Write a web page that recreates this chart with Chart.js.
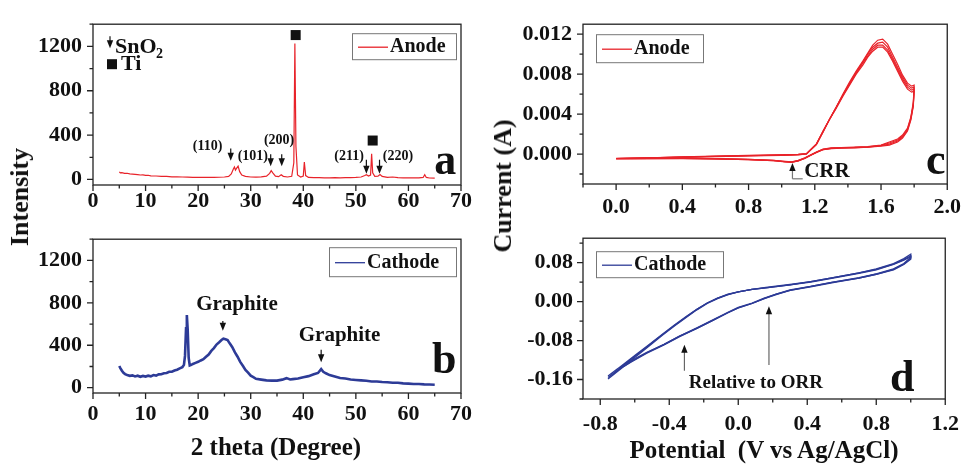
<!DOCTYPE html>
<html>
<head>
<meta charset="utf-8">
<script src="https://cdn.jsdelivr.net/npm/chart.js@4.4.0/dist/chart.umd.min.js"></script>
<style>
  body { margin: 0; background: #fff; width: 971px; height: 466px; overflow: hidden; position: relative;
         font-family: "Liberation Serif", "Times New Roman", serif; }
  canvas { position: absolute; }
  .t { position: absolute; font-weight: bold; white-space: pre; color: #111; transform: translate(-50%, -50%); }
  .rot { transform: translate(-50%, -50%) rotate(-90deg); }
</style>
</head>
<body>
<canvas id="ca" width="480" height="222" style="left:0;top:0;width:480px;height:222px"></canvas>
<canvas id="cb" width="480" height="235" style="left:0;top:215px;width:480px;height:235px"></canvas>
<canvas id="cc" width="491" height="222" style="left:480px;top:0;width:491px;height:222px"></canvas>
<canvas id="cd" width="491" height="240" style="left:480px;top:215px;width:491px;height:240px"></canvas>

<div class="t rot" style="left:20px;top:197px;font-size:26px">Intensity</div>
<div class="t" style="left:276px;top:447px;font-size:25px">2 theta (Degree)</div>
<div class="t rot" style="left:503px;top:186px;font-size:26px">Current (A)</div>
<div class="t" style="left:764px;top:450px;font-size:25px">Potential  (V vs Ag/AgCl)</div>

<script>
// ---- XRD data (2 theta, intensity) ----
const anodeTheta = [5.0, 5.2, 5.5, 6.0, 6.5, 7.0, 7.5, 8.0, 8.5, 9.0, 9.5, 10.0, 10.5, 11, 12, 13, 14, 15, 16, 17, 18, 19, 20, 21, 22, 23, 24, 25,
  25.8, 26.3, 26.7, 26.9, 27.1, 27.3, 27.6, 27.9, 28.3, 29, 30, 31, 32, 33, 33.6, 33.9, 34.2, 34.7, 35.3, 35.8, 36.2, 37, 37.8,
  38.2, 38.4, 38.6, 38.9, 39.5, 40.0, 40.2, 40.45, 41, 42, 43, 44, 45, 46, 47, 48, 49, 50, 51, 51.7, 52.0, 52.4, 52.8, 53.0, 53.2,
  53.6, 54.2, 54.6, 55.0, 56, 57, 58, 59, 60, 61, 62, 62.8, 63.1, 63.4, 64, 65];
const anodeIntensity = [68, 60, 62, 55, 56, 50, 48, 46, 44, 40, 41, 37, 38, 33, 31, 28, 27, 24, 23, 22, 21, 19, 19, 18, 19, 18, 20, 22,
  28, 50, 95, 112, 85, 100, 120, 70, 40, 28, 22, 21, 23, 30, 55, 80, 60, 30, 25, 42, 28, 22, 28,
  150, 1225, 300, 40, 22, 30, 158, 35, 18, 16, 16, 15, 15, 16, 15, 16, 17, 18, 22, 35, 42, 30, 40, 232, 60,
  28, 30, 45, 28, 18, 22, 16, 15, 15, 14, 14, 18, 42, 18, 13, 12];

const cathodeTheta = [5.0, 5.2, 5.5, 5.8, 6.1, 6.5, 7, 7.5, 8, 8.5, 9, 9.5, 10, 10.5, 11, 11.5, 12, 12.5, 13, 13.5, 14, 14.5, 15, 15.5,
  16, 16.5, 17, 17.3, 17.5, 17.7, 17.85, 18.0, 18.2, 18.4, 18.7, 19, 19.5, 20, 20.5, 21, 21.5, 22, 22.5, 23, 23.5, 24, 24.5, 24.8,
  25.2, 25.6, 26, 26.5, 27, 27.5, 28, 28.5, 29, 29.5, 30, 30.5, 31, 32, 33, 34, 35, 36, 36.8, 37.5, 38, 39, 40, 41, 42, 42.8, 43.4,
  43.8, 44.3, 45, 46, 47, 48, 49, 50, 51, 52, 53, 54, 55, 56, 57, 58, 59, 60, 61, 62, 63, 64, 65];
const cathodeIntensity = [205, 185, 160, 140, 128, 120, 112, 116, 106, 113, 103, 111, 105, 113, 107, 119, 114, 126, 127, 136, 139, 150, 151, 162,
  169, 182, 194, 215, 300, 560, 685, 560, 280, 210, 216, 224, 234, 244, 257, 268, 292, 313, 347, 373, 407, 428, 452, 462,
  457, 449, 418, 382, 333, 292, 243, 207, 168, 142, 113, 99, 84, 76, 69, 67, 67, 76, 90, 77, 81, 87, 99, 109, 126, 139, 175,
  150, 136, 119, 106, 91, 86, 77, 73, 69, 66, 59, 59, 53, 51, 47, 46, 41, 38, 35, 35, 31, 30, 28];

const thetaTicks = [0, 10, 20, 30, 40, 50, 60, 70];
const intensityTicks = [0, 400, 800, 1200];

// ---- CV data, anode (4 cycles on one potential path) ----
const anodePotential = [0.00, 0.20, 0.40, 0.60, 0.80, 1.00, 1.10, 1.15, 1.21, 1.25, 1.29, 1.33, 1.37, 1.41, 1.45, 1.49, 1.52, 1.55,
  1.58, 1.61, 1.64, 1.67, 1.70, 1.73, 1.76, 1.785, 1.80, 1.795, 1.78, 1.76, 1.73, 1.70, 1.65, 1.60, 1.52, 1.44, 1.36, 1.30, 1.25,
  1.21, 1.18, 1.14, 1.10, 1.06, 1.02, 0.95, 0.80, 0.60, 0.40, 0.20, 0.00];
const anodeCycle1 = [-0.00045, -0.00040, -0.00034, -0.00026, -0.00019, -0.00013, -0.00008, 0.00000, 0.00095, 0.0022, 0.0035, 0.0047,
  0.0060, 0.0072, 0.0083, 0.0093, 0.0101, 0.0109, 0.0114, 0.0115, 0.0110, 0.0100, 0.0090, 0.0079, 0.0071, 0.0068, 0.0069, 0.0052,
  0.0037, 0.0026, 0.0019, 0.0015, 0.0012, 0.00090, 0.00075, 0.00069, 0.00065, 0.00061, 0.00049, 0.00021, -0.00004, -0.00038,
  -0.00063, -0.00077, -0.00072, -0.00062, -0.00053, -0.00046, -0.00042, -0.00043, -0.00047];
const anodeCycle2 = [-0.00044, -0.00038, -0.00031, -0.00024, -0.00017, -0.00011, -0.00006, 0.00002, 0.00098, 0.0022, 0.0035, 0.0047,
  0.0059, 0.0071, 0.0082, 0.0092, 0.0100, 0.0107, 0.0111, 0.0112, 0.0107, 0.0097, 0.0087, 0.0077, 0.0069, 0.0066, 0.0067, 0.0050,
  0.0036, 0.0025, 0.0018, 0.0014, 0.0011, 0.00086, 0.00072, 0.00066, 0.00063, 0.00059, 0.00047, 0.00019, -0.00006, -0.00040,
  -0.00066, -0.00080, -0.00075, -0.00064, -0.00054, -0.00047, -0.00043, -0.00044, -0.00046];
const anodeCycle3 = [-0.00046, -0.00039, -0.00030, -0.00022, -0.00015, -0.00009, -0.00004, 0.00003, 0.00100, 0.0023, 0.0035, 0.0047,
  0.0059, 0.0070, 0.0081, 0.0091, 0.0098, 0.0105, 0.0109, 0.0109, 0.0104, 0.0095, 0.0085, 0.0075, 0.0067, 0.0064, 0.0065, 0.0049,
  0.0035, 0.0024, 0.0017, 0.0013, 0.0010, 0.00083, 0.00070, 0.00064, 0.00061, 0.00057, 0.00045, 0.00017, -0.00008, -0.00042,
  -0.00068, -0.00082, -0.00077, -0.00066, -0.00055, -0.00048, -0.00044, -0.00045, -0.00047];
const anodeCycle4 = [-0.00045, -0.00037, -0.00029, -0.00021, -0.00014, -0.00008, -0.00003, 0.00004, 0.00102, 0.0023, 0.0035, 0.0046,
  0.0058, 0.0069, 0.0080, 0.0089, 0.0097, 0.0103, 0.0107, 0.0107, 0.0102, 0.0093, 0.0083, 0.0073, 0.0065, 0.0062, 0.0063, 0.0048,
  0.0034, 0.0023, 0.0016, 0.0012, 0.0009, 0.00080, 0.00068, 0.00062, 0.00059, 0.00055, 0.00043, 0.00015, -0.00010, -0.00044,
  -0.00070, -0.00084, -0.00079, -0.00067, -0.00056, -0.00049, -0.00045, -0.00046, -0.00046];

// ---- CV data, cathode (3 cycles) ----
const cathodePotential = [-0.755, -0.68, -0.60, -0.52, -0.44, -0.37, -0.30, -0.24, -0.18, -0.12, -0.06, 0.00, 0.08, 0.16, 0.30, 0.42,
  0.55, 0.70, 0.80, 0.90, 0.96, 1.00,
  1.00, 0.96, 0.90, 0.80, 0.70, 0.55, 0.42, 0.30, 0.22, 0.15, 0.08, 0.00, -0.06, -0.15, -0.24, -0.34, -0.43, -0.53, -0.62, -0.70, -0.755];
const cathodeCycle1 = [-0.159, -0.138, -0.115, -0.092, -0.069, -0.050, -0.032, -0.017, -0.004, 0.006, 0.014, 0.020, 0.025, 0.028, 0.034,
  0.041, 0.049, 0.059, 0.067, 0.078, 0.088, 0.097,
  0.091, 0.078, 0.067, 0.057, 0.049, 0.040, 0.031, 0.024, 0.015, 0.007, -0.003, -0.012, -0.022, -0.038, -0.054, -0.071, -0.088,
  -0.105, -0.123, -0.142, -0.159];
const cathodeCycle2 = [-0.156, -0.135, -0.113, -0.090, -0.068, -0.049, -0.031, -0.016, -0.003, 0.007, 0.015, 0.020, 0.025, 0.029, 0.035,
  0.041, 0.049, 0.059, 0.066, 0.077, 0.086, 0.094,
  0.089, 0.077, 0.066, 0.056, 0.048, 0.040, 0.031, 0.023, 0.015, 0.006, -0.004, -0.013, -0.023, -0.039, -0.055, -0.072, -0.089,
  -0.106, -0.124, -0.141, -0.156];
const cathodeCycle3 = [-0.153, -0.133, -0.111, -0.089, -0.067, -0.048, -0.030, -0.016, -0.003, 0.007, 0.014, 0.020, 0.025, 0.028, 0.034,
  0.040, 0.048, 0.058, 0.065, 0.076, 0.085, 0.092,
  0.087, 0.076, 0.065, 0.056, 0.048, 0.039, 0.030, 0.023, 0.014, 0.006, -0.004, -0.013, -0.023, -0.039, -0.055, -0.071, -0.088,
  -0.104, -0.121, -0.138, -0.153];

const anodePotTicks = [0.0, 0.4, 0.8, 1.2, 1.6, 2.0];
const anodeCurTicks = [0.000, 0.004, 0.008, 0.012];
const cathodePotTicks = [-0.8, -0.4, 0.0, 0.4, 0.8, 1.2];
const cathodeCurTicks = [-0.16, -0.08, 0.00, 0.08];

const RED = '#E8232A';
const BLUE = '#2D3B97';
const SERIF = '"Liberation Serif", "Times New Roman", serif';

Chart.defaults.font.family = SERIF;
Chart.defaults.font.weight = 'bold';
Chart.defaults.color = '#111';

function xy(xs, ys) {
  return xs.map((v, i) => ({ x: v, y: ys[i] }));
}

function series(xs, ys, color, width) {
  return { data: xy(xs, ys), borderColor: color, borderWidth: width, showLine: true,
           pointRadius: 0, pointHoverRadius: 0, fill: false, tension: 0 };
}

function axis(min, max, tickVals, digits, pad, fit, isY) {
  return {
    type: 'linear', min: min, max: max,
    grid: { display: false, drawTicks: false },
    border: { display: false },
    afterBuildTicks: s => { s.ticks = tickVals.map(v => ({ value: v })); },
    afterFit: s => { if (isY) s.width = fit; else s.height = fit; },
    ticks: { padding: pad, autoSkip: false, maxRotation: 0, font: { size: 22, weight: 'bold' }, color: '#111',
             callback: v => Number(v).toFixed(digits) }
  };
}

function eachTick(sc, step, major, fn) {
  const i0 = Math.ceil(sc.min / step - 1e-6), i1 = Math.floor(sc.max / step + 1e-6);
  for (let i = i0; i <= i1; i++) {
    const v = i * step;
    fn(v, Math.abs(v / major - Math.round(v / major)) < 1e-6);
  }
}

function drawArrow(ctx, x, yTail, yTip, lineColor) {
  const dir = yTip > yTail ? 1 : -1;
  ctx.strokeStyle = lineColor; ctx.lineWidth = 1.2;
  ctx.beginPath(); ctx.moveTo(x, yTail); ctx.lineTo(x, yTip - dir * 5); ctx.stroke();
  ctx.fillStyle = '#111';
  ctx.beginPath();
  ctx.moveTo(x, yTip);
  ctx.lineTo(x - 3.2, yTip - dir * 8);
  ctx.lineTo(x + 3.2, yTip - dir * 8);
  ctx.closePath(); ctx.fill();
}

function makeFrame(cfg) {
  return {
    id: 'frame',
    afterDraw(chart) {
      const ctx = chart.ctx, a = chart.chartArea, sx = chart.scales.x, sy = chart.scales.y;
      const px = n => n.dx !== undefined ? a.left + n.dx : sx.getPixelForValue(n.x);
      const py = (n, k) => n.dx !== undefined ? a.top + n['d' + k] : sy.getPixelForValue(n[k]);
      ctx.save();
      // frame box
      ctx.strokeStyle = '#222'; ctx.lineWidth = 1.3;
      ctx.strokeRect(a.left, a.top, a.right - a.left, a.bottom - a.top);
      // outward ticks, major + minor
      ctx.beginPath();
      eachTick(sx, cfg.xMinor, cfg.xMajor, (v, big) => {
        const p = sx.getPixelForValue(v);
        ctx.moveTo(p, a.bottom); ctx.lineTo(p, a.bottom + (big ? 6 : 3.5));
      });
      eachTick(sy, cfg.yMinor, cfg.yMajor, (v, big) => {
        const p = sy.getPixelForValue(v);
        ctx.moveTo(a.left, p); ctx.lineTo(a.left - (big ? 6 : 3.5), p);
      });
      ctx.stroke();
      // legend box
      const L = cfg.legend;
      ctx.strokeStyle = '#777'; ctx.lineWidth = 1;
      ctx.strokeRect(a.left + L.dx + 0.5, a.top + L.dy + 0.5, L.w, L.h);
      const ly = a.top + L.dy + L.h / 2 + 1;
      ctx.strokeStyle = L.color; ctx.lineWidth = 1.3;
      ctx.beginPath(); ctx.moveTo(a.left + L.dx + 6, ly); ctx.lineTo(a.left + L.dx + 36, ly); ctx.stroke();
      ctx.fillStyle = '#111'; ctx.font = 'bold 20px ' + SERIF;
      ctx.textAlign = 'left'; ctx.textBaseline = 'middle';
      ctx.fillText(L.text, a.left + L.dx + 38, ly);
      // annotations
      cfg.notes.forEach(n => {
        if (n.t === 'text') {
          ctx.fillStyle = '#111';
          ctx.font = 'bold ' + n.size + 'px ' + SERIF;
          ctx.textAlign = n.align || 'center';
          ctx.textBaseline = n.base || 'middle';
          ctx.fillText(n.s, px(n), py(n, 'y'));
        } else if (n.t === 'arrow') {
          drawArrow(ctx, px(n), py(n, 'y1'), py(n, 'y2'), n.color || '#111');
        } else if (n.t === 'square') {
          ctx.fillStyle = '#111';
          ctx.fillRect(px(n) - n.size / 2, py(n, 'y') - n.size / 2, n.size, n.size);
        } else if (n.t === 'poly') {
          ctx.strokeStyle = n.color; ctx.lineWidth = 1.2;
          ctx.beginPath();
          n.pts.forEach((p, i) => {
            const X = sx.getPixelForValue(p[0]), Y = sy.getPixelForValue(p[1]);
            if (i === 0) ctx.moveTo(X, Y); else ctx.lineTo(X, Y);
          });
          ctx.stroke();
        }
      });
      ctx.restore();
    }
  };
}

function panel(id, g, datasets, xAxis, yAxis, frame) {
  new Chart(document.getElementById(id), {
    type: 'scatter',
    data: { datasets: datasets },
    options: {
      animation: false, responsive: false, devicePixelRatio: 1,
      layout: { padding: { top: g.top, right: g.right, left: 0, bottom: 0 } },
      scales: { x: xAxis, y: yAxis },
      plugins: { legend: { display: false }, tooltip: { enabled: false } }
    },
    plugins: [makeFrame(frame)]
  });
}

// a: anode XRD
panel('ca', { top: 13, right: 19 },
  [series(anodeTheta, anodeIntensity, RED, 1.2)],
  axis(0, 70, thetaTicks, 0, 3, 37, false),
  axis(-50, 1400, intensityTicks, 0, 11, 93, true),
  {
    xMinor: 5, xMajor: 10, yMinor: 200, yMajor: 400,
    legend: { dx: 259, dy: 9, w: 104, h: 26, text: 'Anode', color: RED },
    notes: [
      { t: 'arrow', dx: 17, dy1: 12, dy2: 24 },
      { t: 'text', dx: 22, dy: 29, s: 'SnO', size: 22, align: 'left', base: 'alphabetic' },
      { t: 'text', dx: 63, dy: 34, s: '2', size: 14, align: 'left', base: 'alphabetic' },
      { t: 'square', dx: 19, dy: 40, size: 10 },
      { t: 'text', dx: 28, dy: 46, s: 'Ti', size: 22, align: 'left', base: 'alphabetic' },
      { t: 'square', x: 38.55, y: 1302, size: 10 },
      { t: 'square', x: 53.2, y: 351, size: 10 },
      { t: 'text', x: 21.8, y: 296, s: '(110)', size: 14 },
      { t: 'text', x: 30.4, y: 211, s: '(101)', size: 14 },
      { t: 'text', x: 35.4, y: 355, s: '(200)', size: 14 },
      { t: 'text', x: 48.7, y: 211, s: '(211)', size: 14 },
      { t: 'text', x: 58.0, y: 211, s: '(220)', size: 14 },
      { t: 'arrow', x: 26.2, y1: 279, y2: 169 },
      { t: 'arrow', x: 33.8, y1: 228, y2: 118 },
      { t: 'arrow', x: 35.9, y1: 228, y2: 118 },
      { t: 'arrow', x: 52.0, y1: 178, y2: 51 },
      { t: 'arrow', x: 54.5, y1: 178, y2: 51 },
      { t: 'text', x: 67.0, y: 51, s: 'a', size: 44, base: 'alphabetic' }
    ]
  });

// b: cathode XRD
panel('cb', { top: 6, right: 19 },
  [series(cathodeTheta, cathodeIntensity, BLUE, 2.6)],
  axis(0, 70, thetaTicks, 0, 8, 57, false),
  axis(-50, 1400, intensityTicks, 0, 11, 93, true),
  {
    xMinor: 5, xMajor: 10, yMinor: 200, yMajor: 400,
    legend: { dx: 236, dy: 8, w: 127, h: 29, text: 'Cathode', color: BLUE },
    notes: [
      { t: 'text', x: 27.4, y: 780, s: 'Graphite', size: 21 },
      { t: 'arrow', x: 24.7, y1: 628, y2: 536 },
      { t: 'text', x: 46.9, y: 495, s: 'Graphite', size: 21 },
      { t: 'arrow', x: 43.4, y1: 357, y2: 240 },
      { t: 'text', x: 66.8, y: 140, s: 'b', size: 44, base: 'alphabetic' }
    ]
  });

// c: anode CV
panel('cc', { top: 13, right: 18 },
  [series(anodePotential, anodeCycle1, RED, 1.2),
   series(anodePotential, anodeCycle2, RED, 1.2),
   series(anodePotential, anodeCycle3, RED, 1.2),
   series(anodePotential, anodeCycle4, RED, 1.2)],
  axis(-0.2, 2.0, anodePotTicks, 1, 10, 38, false),
  axis(-0.003, 0.013, anodeCurTicks, 3, 11, 103, true),
  {
    xMinor: 0.2, xMajor: 0.4, yMinor: 0.002, yMajor: 0.004,
    legend: { dx: 13, dy: 10, w: 107, h: 28, text: 'Anode', color: RED },
    notes: [
      { t: 'arrow', x: 1.065, y1: -0.00248, y2: -0.0009, color: '#777' },
      { t: 'poly', pts: [[1.065, -0.00248], [1.127, -0.00248]], color: '#777' },
      { t: 'text', x: 1.136, y: -0.00171, s: 'CRR', size: 21, align: 'left' },
      { t: 'text', x: 1.93, y: -0.0020, s: 'c', size: 44, base: 'alphabetic' }
    ]
  });

// d: cathode CV
panel('cd', { top: 10, right: 18 },
  [series(cathodePotential, cathodeCycle1, BLUE, 1.3),
   series(cathodePotential, cathodeCycle2, BLUE, 1.3),
   series(cathodePotential, cathodeCycle3, BLUE, 1.3)],
  axis(-0.9, 1.2, cathodePotTicks, 1, 12, 56, false),
  axis(-0.2, 0.13, cathodeCurTicks, 2, 10, 103, true),
  {
    xMinor: 0.2, xMajor: 0.4, yMinor: 0.04, yMajor: 0.08,
    legend: { dx: 13, dy: 13, w: 127, h: 26, text: 'Cathode', color: BLUE },
    notes: [
      { t: 'arrow', x: -0.312, y1: -0.142, y2: -0.0885, color: '#666' },
      { t: 'arrow', x: 0.178, y1: -0.130, y2: -0.0095, color: '#666' },
      { t: 'text', x: 0.102, y: -0.167, s: 'Relative to ORR', size: 19 },
      { t: 'text', x: 0.95, y: -0.184, s: 'd', size: 44, base: 'alphabetic' }
    ]
  });
</script>
</body>
</html>
